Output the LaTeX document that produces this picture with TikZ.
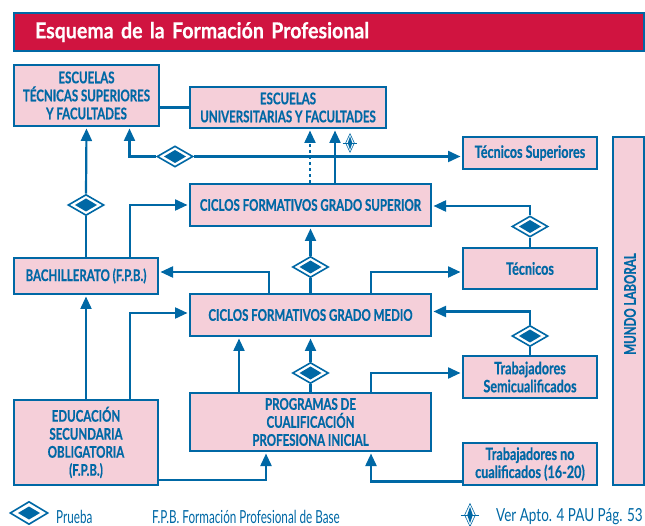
\documentclass[tikz,border=0pt]{standalone}
\usepackage{fontspec}
\usetikzlibrary{arrows.meta,shapes.geometric}
\setmainfont{Lato}
\newfontfamily\boxfont[FakeStretch=0.72,FakeBold=0.6]{Lato Bold}
\newfontfamily\lowfont[FakeStretch=0.74,FakeBold=0.6]{Lato Bold}
\newfontfamily\titlefont[FakeStretch=0.89,FakeBold=0.5]{Lato Bold}
\newfontfamily\legfont[FakeStretch=0.65]{Lato}
\newfontfamily\legwide[FakeStretch=0.75]{Lato}
\definecolor{mainblue}{HTML}{0068A5}
\definecolor{boxpink}{HTML}{F5CFD9}
\definecolor{bannerred}{HTML}{D01440}
\tikzset{
  x=1pt,y=-1pt,
  box/.style={draw=mainblue,fill=boxpink,line width=2pt,text=mainblue,align=center,inner sep=0pt,font=\boxfont\fontsize{16}{18}\selectfont},
  lowerbox/.style={box,font=\lowfont\fontsize{17}{18}\selectfont},
  conn/.style={draw=mainblue,line width=2.2pt},
  arr/.style={conn,-{Triangle[length=12.5pt,width=11pt]},shorten >=1.5pt},
  dotarr/.style={arr,dash pattern=on 3pt off 3pt},
  test/.style={diamond,draw=mainblue,fill=white,line width=1.6pt,inner sep=0pt,minimum width=36pt,minimum height=21pt,
    path picture={\fill[mainblue] (path picture bounding box.center) ++(-11pt,0) -- ++(11pt,6.5pt) -- ++(11pt,-6.5pt) -- ++(-11pt,-6.5pt) -- cycle;}},
  mark sym/.style={diamond,draw=mainblue,fill=white,line width=0.6pt,inner sep=0pt,minimum width=#1,minimum height=2.1*#1,
    path picture={\fill[mainblue] (path picture bounding box.center) ++(-0.25*#1,0) -- ++(0.25*#1,0.75*#1) -- ++(0.25*#1,-0.75*#1) -- ++(-0.25*#1,-0.75*#1) -- cycle;}},
  tick/.style={draw=mainblue,line width=0.8pt},
  legend/.style={anchor=west,text=mainblue,inner sep=0pt,font=\legfont\fontsize{18}{20}\selectfont},
}
\begin{document}
\begin{tikzpicture}
\useasboundingbox (0,0) rectangle (645,526);
% banner
\node[draw=mainblue,fill=bannerred,line width=2pt,minimum width=629.5pt,minimum height=38pt,text width=587.5pt,inner xsep=21pt,inner ysep=0pt,align=left,text=white,font=\titlefont\fontsize{22}{24}\selectfont] (banner) at (328.75,32) {Esquema de la Formación Profesional};
% boxes
\node[box,minimum width=145pt,minimum height=61pt] (ets) at (86.5,95.5) {ESCUELAS\\TÉCNICAS SUPERIORES\\Y FACULTADES};
\node[box,minimum width=196pt,minimum height=41pt] (eu) at (288,107.5) {ESCUELAS\\UNIVERSITARIAS Y FACULTADES};
\node[lowerbox,minimum width=134pt,minimum height=32pt] (tsup) at (530,153) {Técnicos Superiores};
\node[box,minimum width=31pt,minimum height=348pt] (mundo) at (628.5,311) {};
\node[text=mainblue,rotate=90,inner sep=0pt,font=\boxfont\fontsize{16}{18}\selectfont] (mundotxt) at (630,304) {MUNDO LABORAL};
\node[box,minimum width=241pt,minimum height=42pt] (cfgs) at (310.5,205) {CICLOS FORMATIVOS GRADO SUPERIOR};
\node[box,minimum width=144pt,minimum height=36pt] (bach) at (86,276) {BACHILLERATO (F.P.B.)};
\node[lowerbox,minimum width=134pt,minimum height=41pt] (tec) at (530,268.5) {Técnicos};
\node[box,minimum width=241pt,minimum height=42pt] (cfgm) at (310.5,315) {CICLOS FORMATIVOS GRADO MEDIO};
\node[lowerbox,minimum width=134pt,minimum height=42pt] (tsemi) at (530,377) {Trabajadores\\Semicualificados};
\node[box,minimum width=241pt,minimum height=58pt] (prog) at (310.5,422) {PROGRAMAS DE\\CUALIFICACIÓN\\PROFESIONA INICIAL};
\node[lowerbox,minimum width=134pt,minimum height=42pt] (tno) at (530,464) {Trabajadores no\\cualificados (16-20)};
\node[box,minimum width=144pt,minimum height=85pt] (eso) at (86,442.5) {\raisebox{-5pt}{\parbox{140pt}{\centering EDUCACIÓN\\SECUNDARIA\\OBLIGATORIA\\(F.P.B.)}}};
% diamonds
\node[test] (dh) at (175,156.5) {};
\node[test] (dbach) at (86,205) {};
\node[test] (dtec) at (530,226.5) {};
\node[test] (dcfgm) at (310.5,267) {};
\node[test] (dsemi) at (530,336) {};
\node[test] (dprog) at (310.5,373) {};
% connectors
\draw[conn] (ets.east |- eu.west) -- (eu.west);
\draw[conn] (bach.north) -- (dbach.south);
\draw[arr] (dbach.north) -- (ets.south);
\draw[arr] (dh.west) -| (129.5,127);
\draw[arr] (dh.east) -- (dh -| tsup.west);
\draw[dotarr] (310,183) -- (310,129);
\draw[arr] (335,183) -- (335,129);
\node[mark sym=9pt] (s1) at (350,143) {};
\draw[tick] ([xshift=-2.5pt]s1.west) -- ([xshift=2.5pt]s1.east);
\draw[arr] (130,257) |- (cfgs.west);
\draw[conn] (tec.north) -- (dtec.south);
\draw[arr] (dtec.north) |- (cfgs.east |- 0,206);
\draw[conn] (cfgm.north -| dcfgm) -- (dcfgm.south);
\draw[arr] (dcfgm.north) -- (cfgs.south -| dcfgm);
\draw[arr] (269,293) |- (bach.east |- 0,272);
\draw[arr] (371,293) |- (tec.west |- 0,272);
\draw[conn] (tsemi.north) -- (dsemi.south);
\draw[arr] (dsemi.north) |- (cfgm.east |- 0,311.5);
\draw[arr] (eso.north) -- (bach.south);
\draw[arr] (130,399) |- (cfgm.west |- 0,313);
\draw[arr] (239,392) -- (239,337);
\draw[conn] (prog.north -| dprog) -- (dprog.south);
\draw[arr] (dprog.north) -- (cfgm.south -| dprog);
\draw[arr] (371,392) |- (tsemi.west |- 0,373);
\draw[arr] (tno.west |- 0,481.5) -| (371,452);
\draw[arr] (eso.east |- 0,480) -| (266,452);
% legend
\node[test,minimum width=38pt,minimum height=23pt] (dleg) at (29,513) {};
\node[legend] (lprueba) at (56,516.5) {Prueba};
\node[legend] (lfpb) at (152,516.5) {F.P.B. Formación Profesional de Base};
\node[mark sym=11pt] (s2) at (470,515) {};
\draw[tick] ([xshift=-3.5pt]s2.west) -- ([xshift=3.5pt]s2.east);
\node[legend,font=\legwide\fontsize{18}{20}\selectfont] (lver) at (496,516.5) {Ver Apto. 4 PAU Pág. 53};
\end{tikzpicture}
\end{document}
